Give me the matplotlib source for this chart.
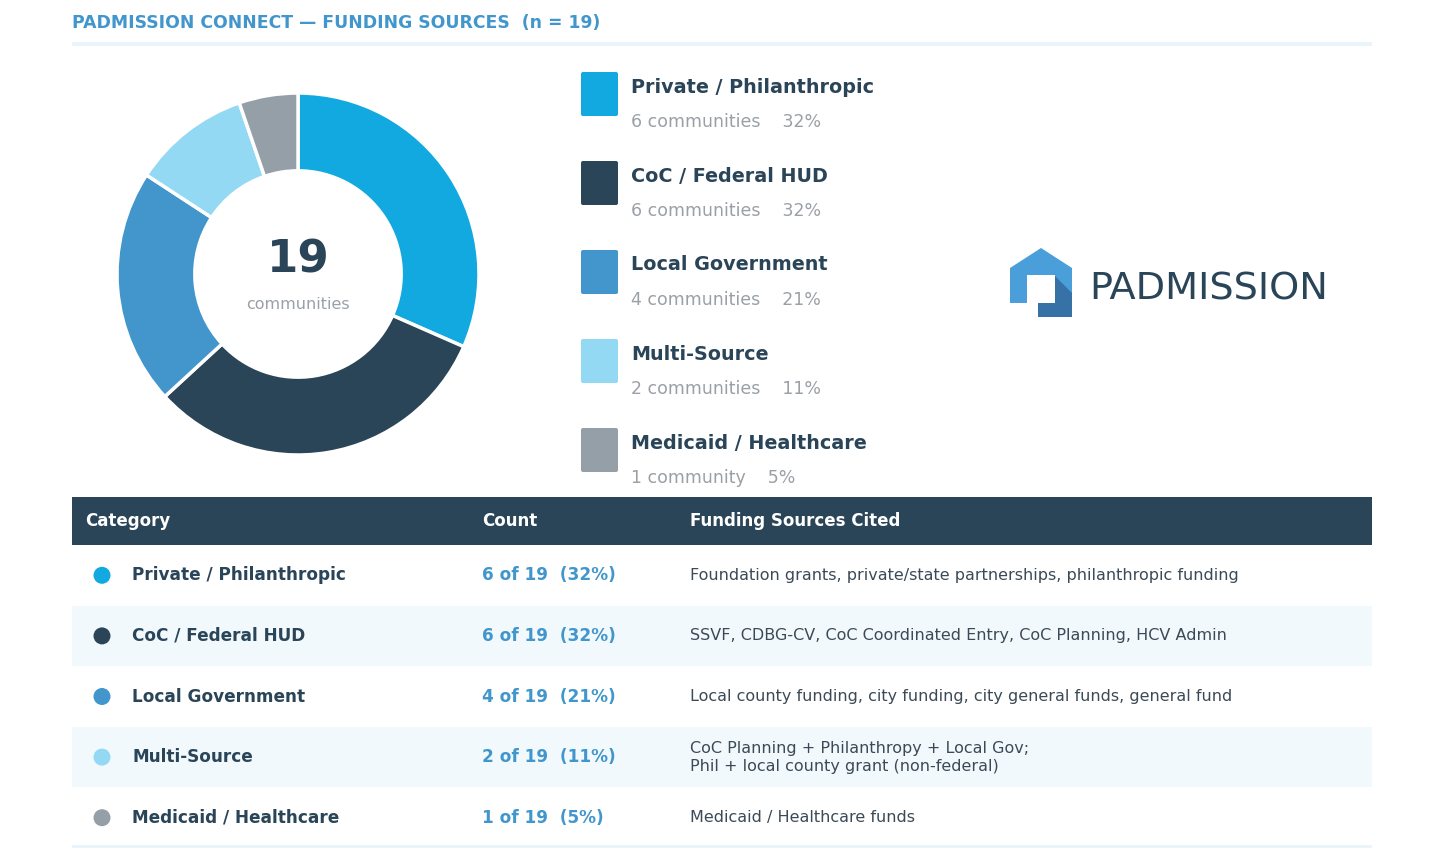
import matplotlib
matplotlib.use("Agg")
import matplotlib.pyplot as plt
from matplotlib.patches import Rectangle, FancyBboxPatch, Circle, Polygon

plt.rcParams["font.family"] = ["DejaVu Sans"]

# data
categories = ["Private / Philanthropic", "CoC / Federal HUD", "Local Government",
              "Multi-Source", "Medicaid / Healthcare"]
counts = [6, 6, 4, 2, 1]
colors = ["#12a9e1", "#2a4458", "#4296cc", "#93d9f3", "#959fa8"]
sources = [
    "Foundation grants, private/state partnerships, philanthropic funding",
    "SSVF, CDBG-CV, CoC Coordinated Entry, CoC Planning, HCV Admin",
    "Local county funding, city funding, city general funds, general fund",
    "CoC Planning + Philanthropy + Local Gov;\nPhil + local county grant (non-federal)",
    "Medicaid / Healthcare funds",
]
total = sum(counts)
pcts = [round(c / total * 100) for c in counts]

navy = "#2a4458"
blue = "#4196cc"
gray = "#9aa0a6"
pale = "#e9f4fb"

W, H = 1445, 849
fig = plt.figure(figsize=(W / 100, H / 100), dpi=100)
ax = fig.add_axes([0, 0, 1, 1])
ax.set_xlim(0, W)
ax.set_ylim(H, 0)
ax.axis("off")

# title
ax.text(72, 23, f"PADMISSION CONNECT \u2014 FUNDING SOURCES  (n = {total})",
        fontsize=12.4, fontweight="bold", color=blue, va="center", ha="left")
ax.add_patch(Rectangle((72, 42), 1300, 4, color=pale, lw=0))

# donut
cx, cy, r_out = 298, 274, 181
pax = fig.add_axes([(cx - r_out) / W, (H - cy - r_out) / H, 2 * r_out / W, 2 * r_out / H])
pax.pie(counts, colors=colors, startangle=90, counterclock=False, radius=1,
        wedgeprops=dict(width=0.43, edgecolor="white", linewidth=2.5))
pax.set_xlim(-1, 1)
pax.set_ylim(-1, 1)
pax.set_aspect("auto")
pax.axis("off")
pax.text(0, 0.08, str(total), fontsize=32.5, fontweight="bold", color=navy,
         ha="center", va="center")
pax.text(0, -0.17, "communities", fontsize=11.5, color=gray, ha="center", va="center")

# legend
for i, (cat, n, p, col) in enumerate(zip(categories, counts, pcts, colors)):
    y = 87 + i * 89
    ax.add_patch(FancyBboxPatch((581, y - 15), 37, 44,
                                boxstyle="round,pad=0,rounding_size=2",
                                facecolor=col, edgecolor="none"))
    ax.text(631, y, cat, fontsize=13.8, fontweight="bold", color=navy,
            va="center", ha="left")
    word = "community" if n == 1 else "communities"
    ax.text(631, y + 35, f"{n} {word}    {p}%", fontsize=12.5, color=gray,
            va="center", ha="left")

# logo
light_b = "#4a9fdb"
dark_b = "#3672a6"
ax.add_patch(Polygon([(1010, 303), (1010, 268), (1041, 248), (1072, 268),
                      (1072, 317), (1038, 317), (1038, 303)],
                     closed=True, facecolor=light_b, edgecolor="none"))
ax.add_patch(Polygon([(1055, 276), (1072, 293), (1072, 317), (1038, 317),
                      (1038, 303), (1055, 303)],
                     closed=True, facecolor=dark_b, edgecolor="none"))
ax.add_patch(Rectangle((1027, 275), 28, 28, facecolor="white", edgecolor="none"))
ax.text(1089, 289, "PADMISSION", fontsize=27.5, color=navy, va="center", ha="left")

# table
ax.add_patch(Rectangle((72, 497), 1300, 48, color=navy, lw=0))
for x, lab in [(85, "Category"), (482, "Count"), (690, "Funding Sources Cited")]:
    ax.text(x, 521, lab, fontsize=12, fontweight="bold", color="white",
            va="center", ha="left")

row_h = 60.6
for i, (cat, n, p, col, src) in enumerate(zip(categories, counts, pcts, colors, sources)):
    top = 545 + i * row_h
    yc = top + row_h / 2
    if i % 2 == 1:
        ax.add_patch(Rectangle((72, top), 1300, row_h, color="#f2f9fd", lw=0))
    ax.add_patch(Circle((102, yc), 8.5, facecolor=col, edgecolor="none"))
    ax.text(132, yc, cat, fontsize=12.2, fontweight="bold", color=navy,
            va="center", ha="left")
    ax.text(482, yc, f"{n} of {total}  ({p}%)", fontsize=12.2, fontweight="bold",
            color=blue, va="center", ha="left")
    ax.text(690, yc, src, fontsize=11.5, color="#3b4a56", va="center", ha="left",
            linespacing=1.25)

ax.add_patch(Rectangle((72, 845), 1300, 3, color=pale, lw=0))

fig.savefig("out.png", dpi=100, facecolor="white")
